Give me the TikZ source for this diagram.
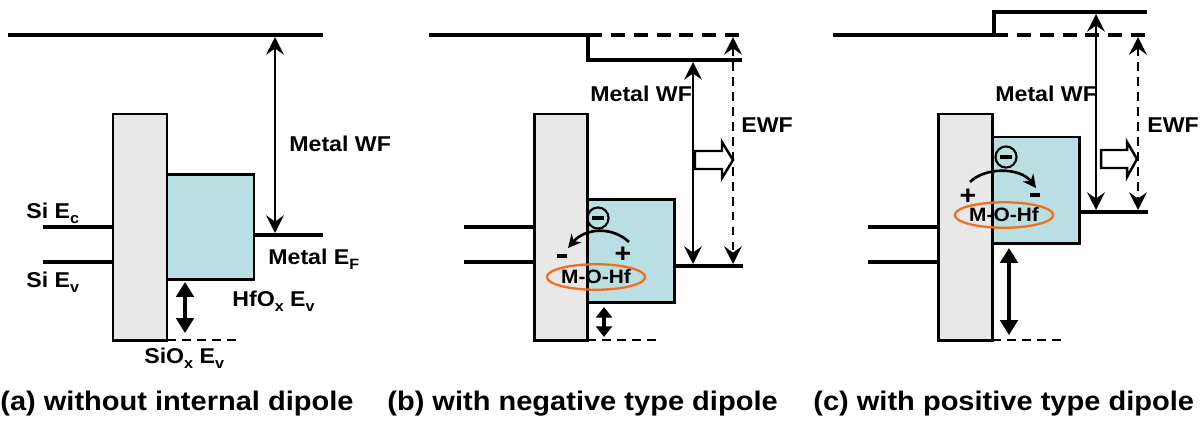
\documentclass[tikz,border=0pt]{standalone}
\usepackage{fontspec}
\setmainfont{Liberation Sans}[FakeStretch=1.08]
\usepackage{xcolor}
\usepackage{tikz}
\usetikzlibrary{arrows.meta,shapes.geometric}
\definecolor{oxgray}{RGB}{232,232,232}
\definecolor{hkteal}{RGB}{185,223,226}
\definecolor{dipoleorange}{RGB}{240,110,30}
\newcommand{\lowsub}[1]{\raisebox{-3pt}{\fontsize{8.5}{9}\selectfont #1}}

\tikzset{
  bandline/.style={line width=2pt},
  oxbox/.style={draw, line width=1.7pt, fill=oxgray},
  hkbox/.style={draw, line width=1.7pt, fill=hkteal},
  vacdash/.style={line width=2pt, dash pattern=on 8pt off 5pt},
  sioxdash/.style={line width=1.6pt, dash pattern=on 5pt off 3.5pt},
  wfarrow/.style={line width=1.6pt, {Stealth[length=10pt,width=10pt,inset=3.5pt]}-{Stealth[length=10pt,width=10pt,inset=3.5pt]}},
  ewfarrow/.style={wfarrow, dash pattern=on 5pt off 3.5pt},
  gaparrow/.style={line width=1.8pt, {Triangle[length=8.5pt,width=10pt]}-{Triangle[length=8.5pt,width=10pt]}},
  smallgap/.style={line width=1.8pt, {Triangle[length=6pt,width=9pt]}-{Triangle[length=6pt,width=9pt]}},
  shiftarrow/.style={line width=1.4pt, fill=white},
  dipolearrow/.style={line width=1.5pt, -{Stealth[length=7.5pt,width=7.5pt]}},
  dipolering/.style={ellipse, draw=dipoleorange, line width=1.3pt, inner sep=0pt,
    minimum width=50pt, minimum height=14.5pt, font=\fontsize{11}{13}\selectfont\bfseries},
  chargeminus/.style={circle, draw, line width=1.2pt, inner sep=0pt, minimum size=12pt},
  sign/.style={inner sep=0pt, font=\fontsize{15}{15}\selectfont\bfseries},
  lbl/.style={inner sep=0pt, font=\fontsize{12.2}{14}\selectfont\bfseries},
  capt/.style={inner sep=0pt, font=\fontsize{15.3}{18}\selectfont\bfseries}
}

\begin{document}
\begin{tikzpicture}[x=0.02cm, y=-0.02cm]
  \useasboundingbox (0,0) rectangle (1202,420);

  % (a) without internal dipole
  \draw[bandline] (8,35) -- (323,35);
  \draw[bandline] (43,227) -- (113,227);
  \draw[bandline] (43,262) -- (113,262);
  \draw[hkbox] (167,174) rectangle (254,279);
  \draw[oxbox] (113,114) rectangle (167,340);
  \draw[bandline] (254,235) -- (323,235);
  \draw[sioxdash] (167,340) -- (237,340);
  \draw[wfarrow] (275,37) -- (275,233);
  \draw[gaparrow] (185,282) -- (185,333);
  \node[lbl, anchor=base west] (wfa) at (289,151) {Metal WF};
  \node[lbl, anchor=base west] (efa) at (268,264) {Metal E\lowsub{F}};
  \node[lbl, anchor=base west] (sica) at (26,218) {Si E\lowsub{c}};
  \node[lbl, anchor=base west] (siva) at (26,287) {Si E\lowsub{v}};
  \node[lbl, anchor=base west] (hfva) at (232,306) {HfO\lowsub{x} E\lowsub{v}};
  \node[lbl, anchor=base west] (soxa) at (144,363) {SiO\lowsub{x} E\lowsub{v}};
  \node[capt, anchor=base west] (capa) at (0,410) {(a) without internal dipole};

  % (b) with negative type dipole
  \draw[bandline] (429,35) -- (588,35) -- (588,60) -- (742,60);
  \draw[vacdash] (588,35) -- (740,35);
  \draw[bandline] (464,227) -- (534,227);
  \draw[bandline] (464,262) -- (534,262);
  \draw[hkbox] (587,199) rectangle (674,302);
  \draw[oxbox] (534,114) rectangle (587,340);
  \draw[bandline] (674,266) -- (743,266);
  \draw[sioxdash] (587,340) -- (657,340);
  \draw[wfarrow] (693,62) -- (693,264);
  \draw[ewfarrow] (733,37) -- (733,264);
  \draw[shiftarrow] (695,151) -- (722,151) -- (722,142) -- (733,160)
    -- (722,178) -- (722,169) -- (695,169) -- cycle;
  \draw[smallgap] (604,307) -- (604,337);
  \node[chargeminus] (eb) at (598,218) {\rule[-1pt]{6.5pt}{2pt}};
  \draw[dipolearrow] (629,242) .. controls (612,226) and (585,228) .. (568,248);
  \node[sign] (negb) at (562,256) {\rule{5.5pt}{2.4pt}};
  \node[sign] (posb) at (623,255) {+};
  \node[dipolering] (mohb) at (596,277) {M-O-Hf};
  \node[lbl, anchor=base west] (wfb) at (590,101) {Metal WF};
  \node[lbl, anchor=base west] (ewfb) at (741,132) {EWF};
  \node[capt, anchor=base west] (capb) at (387,410) {(b) with negative type dipole};

  % (c) with positive type dipole
  \draw[bandline] (833,35) -- (994,35) -- (994,12) -- (1147,12);
  \draw[vacdash] (994,35) -- (1145,35);
  \draw[bandline] (868,227) -- (938,227);
  \draw[bandline] (868,262) -- (938,262);
  \draw[hkbox] (992,137) rectangle (1079,243);
  \draw[oxbox] (938,114) rectangle (992,340);
  \draw[bandline] (1079,212) -- (1148,212);
  \draw[sioxdash] (992,340) -- (1063,340);
  \draw[wfarrow] (1096,14) -- (1096,210);
  \draw[ewfarrow] (1138,37) -- (1138,210);
  \draw[shiftarrow] (1101,150) -- (1127,150) -- (1127,142) -- (1137,159)
    -- (1127,177) -- (1127,168) -- (1101,168) -- cycle;
  \draw[gaparrow] (1009,248) -- (1009,335);
  \node[chargeminus] (ec) at (1006,157) {\rule[-1pt]{6.5pt}{2pt}};
  \draw[dipolearrow] (970,182) .. controls (985,167) and (1020,167) .. (1036,188);
  \node[sign] (posc) at (968,197) {+};
  \node[sign] (negc) at (1035,195) {\rule{5.5pt}{2.4pt}};
  \node[dipolering] (mohc) at (1004,215) {M-O-Hf};
  \node[lbl, anchor=base west] (wfc) at (995,101) {Metal WF};
  \node[lbl, anchor=base west] (ewfc) at (1147,132) {EWF};
  \node[capt, anchor=base west] (capc) at (813,410) {(c) with positive type dipole};
\end{tikzpicture}
\end{document}
